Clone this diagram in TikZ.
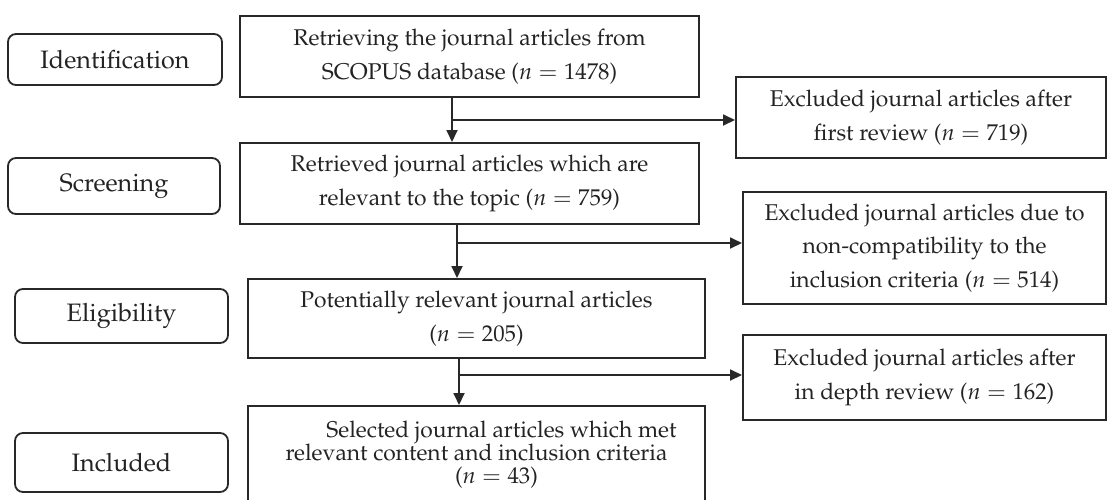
\documentclass[tikz,border=0pt]{standalone}
\usepackage[T1]{fontenc}
\usepackage{mathpazo}
\usepackage{tikz}
\usetikzlibrary{arrows.meta}
\definecolor{FlowLine}{RGB}{40,40,40}
\definecolor{FlowText}{RGB}{35,35,35}

\begin{document}
\begin{tikzpicture}[
  x=0.5pt,y=-0.5pt,
  stage/.style={rounded corners=4pt,draw=FlowLine,line width=0.9pt,align=center,
                inner sep=0pt,text=FlowText,font=\fontsize{12.6}{15}\selectfont},
  box/.style={draw=FlowLine,line width=1pt,align=center,inner sep=0pt,text=FlowText,
              font=\fontsize{11.4}{16.8}\selectfont},
  arrow/.style={-{Triangle[length=6pt,width=5.5pt]},draw=FlowLine,line width=0.9pt}
]
\useasboundingbox (0,0) rectangle (1107,499);
\node[stage,minimum width=107pt,minimum height=25.5pt] (ident) at (115,59.5) {Identification};
\node[stage,minimum width=106pt,minimum height=28pt] (screen) at (114,186) {Screening};
\node[stage,minimum width=106.5pt,minimum height=27pt] (elig) at (121.5,316) {Eligibility};
\node[stage,minimum width=106.5pt,minimum height=29.5pt] (incl) at (121.5,462.5) {Included};

\node[box,minimum width=229.5pt,minimum height=40.5pt] (retr) at (469.5,56.5)
  {Retrieving the journal articles from\\SCOPUS database ($n=1478$)};
\node[box,minimum width=229.5pt,minimum height=40.5pt] (relev) at (469.5,183.5)
  {Retrieved journal articles which are\\relevant to the topic ($n=759$)};
\node[box,minimum width=228.5pt,minimum height=39.5pt] (potent) at (476.5,318.5)
  {Potentially relevant journal articles\\($n=205$)};
\node[box,minimum width=228.5pt,minimum height=48.5pt,
      font=\fontsize{11.4}{11.6}\selectfont] (select) at (476.5,454.5)
  {\hspace*{25pt}Selected journal articles which met\\relevant content and inclusion criteria\\\hspace*{20pt}($n=43$)};

\node[box,minimum width=185pt,minimum height=40.5pt] (excl1) at (921,117.5)
  {Excluded journal articles after\\first review ($n=719$)};
\node[box,minimum width=181.5pt,minimum height=56pt] (excl2) at (924.5,248)
  {Excluded journal articles due to\\non-compatibility to the\\inclusion criteria ($n=514$)};
\node[box,minimum width=181.5pt,minimum height=42.5pt] (excl3) at (924.5,377.5)
  {Excluded journal articles after\\in depth review ($n=162$)};

\coordinate (b1) at (452,120);
\coordinate (b2) at (457,243);
\coordinate (b3) at (459,375);
\draw[arrow] (retr.south -| b1) -- (relev.north -| b1);
\draw[arrow] (relev.south -| b2) -- (potent.north -| b2);
\draw[arrow] (potent.south -| b3) -- (select.north -| b3);
\draw[arrow] (b1) -- (b1 -| excl1.west);
\draw[arrow] (b2) -- (b2 -| excl2.west);
\draw[arrow] (b3) -- (b3 -| excl3.west);
\end{tikzpicture}
\end{document}
